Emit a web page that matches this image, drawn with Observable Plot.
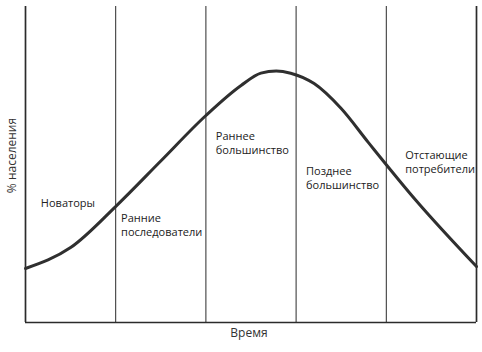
<!DOCTYPE html>
<html>
<head>
<meta charset="utf-8">
<script src="https://cdn.jsdelivr.net/npm/d3@7"></script>
<script src="https://cdn.jsdelivr.net/npm/@observablehq/plot@0.6"></script>
<style>
  html, body { margin: 0; padding: 0; background: #fff; }
  #chart svg { display: block; }
</style>
</head>
<body>
<div id="chart"></div>
<script>
// Diffusion curve (time in stage units 0..5, share of population 0..100)
const curveTime  = [0, 0.5, 1.01, 1.5, 2.0, 2.39, 2.61, 2.78, 2.94, 3.2, 3.5, 3.8, 4.33, 5.0];
const curveShare = [17.1, 23.7, 37.0, 51.1, 65.5, 75.0, 78.9, 79.6, 78.9, 75.6, 67.7, 57.0, 38.6, 17.7];

// Stage boundaries and labels
const boundaries = [1, 2, 3, 4];
const edges = [0, 5];
const stageLabels = ["Новаторы", "Ранние\nпоследователи", "Раннее\nбольшинство", "Позднее\nбольшинство", "Отстающие\nпотребители"];
const stageLabelLevel = [38.0, 31.0, 57.0, 45.9, 50.9];
const stageLabelShift = [0.17, 0.06, 0.11, 0.11, 0.21];

const xTitle = "Время";
const yTitle = "% населения";

const curve = curveTime.map((t, i) => ({t, v: curveShare[i]}));
const labels = stageLabels.map((s, i) => ({x: i + stageLabelShift[i], y: stageLabelLevel[i], s}));

const font = "'Open Sans', 'Noto Sans', sans-serif";

const chart = Plot.plot({
  width: 482,
  height: 352,
  marginLeft: 25,
  marginRight: 6,
  marginTop: 6,
  marginBottom: 30,
  style: {fontFamily: font, background: "#fff"},
  x: {domain: [0, 5], axis: null},
  y: {domain: [0, 100], axis: null},
  marks: [
    Plot.ruleX(boundaries, {stroke: "#2b2b2b", strokeWidth: 1}),
    Plot.ruleX(edges, {stroke: "#2b2b2b", strokeWidth: 1.7}),
    Plot.ruleY([0], {stroke: "#2b2b2b", strokeWidth: 1.3}),
    Plot.line(curve, {x: "t", y: "v", curve: "monotone-x", stroke: "#2f2f2f", strokeWidth: 3}),
    Plot.text(labels, {x: "x", y: "y", text: "s", textAnchor: "start", lineAnchor: "middle", lineHeight: 1.27, fontSize: 11, fill: "#222"}),
    Plot.text([yTitle], {frameAnchor: "left", textAnchor: "middle", lineAnchor: "middle", rotate: -90, dx: -13, dy: -9, fontSize: 12, fill: "#333"}),
    Plot.text([xTitle], {frameAnchor: "bottom", textAnchor: "middle", lineAnchor: "middle", dy: 11, dx: -2, fontSize: 12, fill: "#333"})
  ]
});
document.getElementById("chart").appendChild(chart);
</script>
</body>
</html>
